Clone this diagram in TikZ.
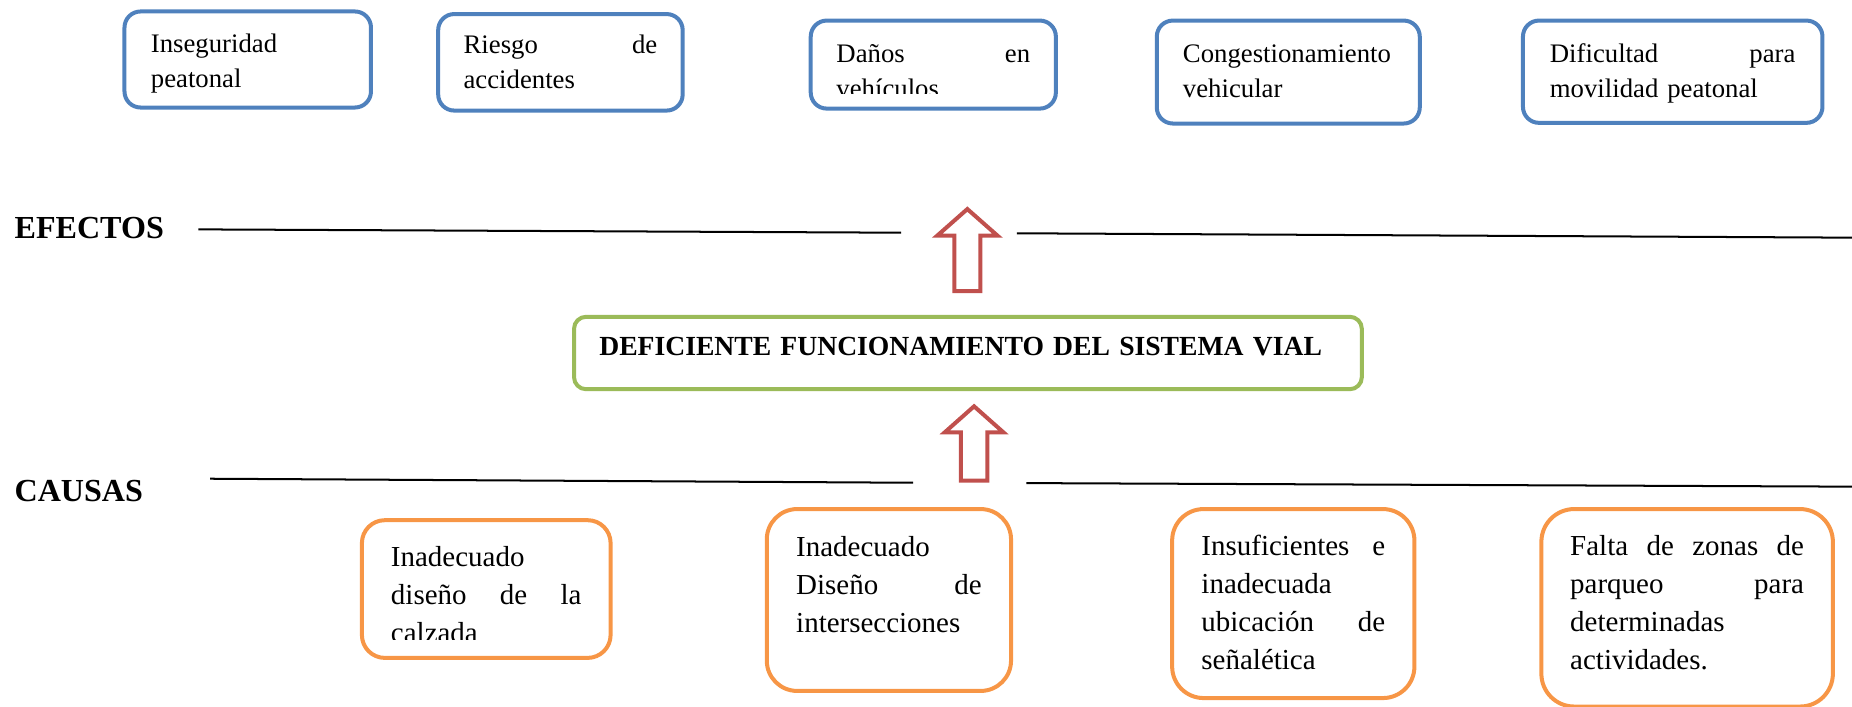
\documentclass[tikz,border=0pt]{standalone}
\usepackage{fontspec}
\setmainfont{Liberation Serif}

\definecolor{azul}{HTML}{4F81BD}
\definecolor{verde}{HTML}{9BBB59}
\definecolor{naranja}{HTML}{F79646}
\definecolor{rojo}{HTML}{C0504D}

\tikzset{
  efecto/.style={draw=azul,line width=1.8pt,rounded corners=7.2pt,anchor=north west,inner sep=0pt,align=left,font=\fontsize{12}{15.6}\selectfont},
  causa/.style={draw=naranja,line width=1.8pt,anchor=north west,inner sep=0pt,align=left,font=\fontsize{13}{17}\selectfont},
  problema/.style={draw=verde,line width=1.8pt,rounded corners=5.4pt,anchor=north west,inner sep=0pt,align=left,font=\fontsize{12.4}{15}\selectfont\bfseries},
  titulo/.style={anchor=base west,inner sep=0pt,font=\fontsize{14.4}{17}\selectfont\bfseries},
  linea/.style={line width=0.9pt},
  flecha/.style={draw=rojo,line width=1.8pt,line join=miter}
}

\begin{document}
\begin{tikzpicture}[x=0.53pt,y=-0.53pt]
\useasboundingbox (0,0) rectangle (1568,598);

% efectos
\node[efecto,minimum width=110.6pt,text width=86.9pt,text height=18.6pt,text depth=24.5pt] (inseguridad) at (103.7,8) {Inseguridad\\peatonal};
\node[efecto,minimum width=109.7pt,text width=86.9pt,text height=17.8pt,text depth=25.5pt] (riesgo) at (369.3,10.2) {Riesgo\hfill de\\accidentes};
\node[efecto,minimum width=110pt,text width=86.9pt,text height=18.7pt,text depth=20.8pt] (danos) at (684.7,15.7) {Daños\hfill en\\vehículos};
\node[efecto,minimum width=118pt,text width=94.5pt,text height=18.7pt,text depth=27.5pt] (congestion) at (977.7,15.7) {Congestionamiento\\vehicular};
\node[efecto,minimum width=134.4pt,text width=110.2pt,text height=18.7pt,text depth=27.2pt] (dificultad) at (1287.7,15.7) {Dificultad\hfill para\\movilidad peatonal};
% el texto sale cortado por abajo en el original
\fill[white] (700,79.5) rectangle (880,86);

\node[titulo] (efectos) at (12,201.8) {EFECTOS};
\draw[linea] (168,194.2) -- (763,197);
\draw[linea] (861,197.5) -- (1568,201.2);

\coordinate (puntaA) at (819,177);
\draw[flecha] (puntaA) -- ++(25.5,22.5) -- ++(-14.5,0) -- ++(0,47) -- ++(-22,0) -- ++(0,-47) -- ++(-14.5,0) -- cycle;

% problema central
\node[problema,minimum width=353.5pt,text width=330.8pt,text height=17.2pt,text depth=15.3pt] (central) at (484.3,266.5) {DEFICIENTE FUNCIONAMIENTO DEL SISTEMA VIAL};

\coordinate (puntaB) at (824.7,344);
\draw[flecha] (puntaB) -- ++(24.8,22) -- ++(-13.5,0) -- ++(0,41) -- ++(-22.5,0) -- ++(0,-41) -- ++(-13.6,0) -- cycle;

\node[titulo] (causas) at (12,424.8) {CAUSAS};
\draw[linea] (178,405.3) -- (773,408.7);
\draw[linea] (869,409) -- (1568,412);

% causas
\node[causa,rounded corners=10.3pt,minimum width=111.6pt,text width=85.5pt,text height=20.7pt,text depth=41.1pt] (calzada) at (304.7,438.7) {Inadecuado\\diseño\hfill de\hfill la\\calzada};
\fill[white] (320,541.5) rectangle (500,548);
\node[causa,rounded corners=13.6pt,minimum width=109.6pt,text width=83.2pt,text height=21.3pt,text depth=60.3pt] (intersec) at (647.5,429.3) {Inadecuado\\Diseño\hfill de\\intersecciones};
\node[causa,rounded corners=14.1pt,minimum width=108.7pt,text width=82.4pt,text height=20.8pt,text depth=64pt] (senal) at (990.7,429.3) {Insuficientes\hfill e\\inadecuada\\ubicación\hfill de\\señalética};
\node[causa,rounded corners=14.7pt,minimum width=130.8pt,text width=104.9pt,text height=20.8pt,text depth=67.8pt] (parqueo) at (1303.3,429.3) {Falta\hfill de\hfill zonas\hfill de\\parqueo\hfill para\\determinadas\\actividades.};
\end{tikzpicture}
\end{document}
